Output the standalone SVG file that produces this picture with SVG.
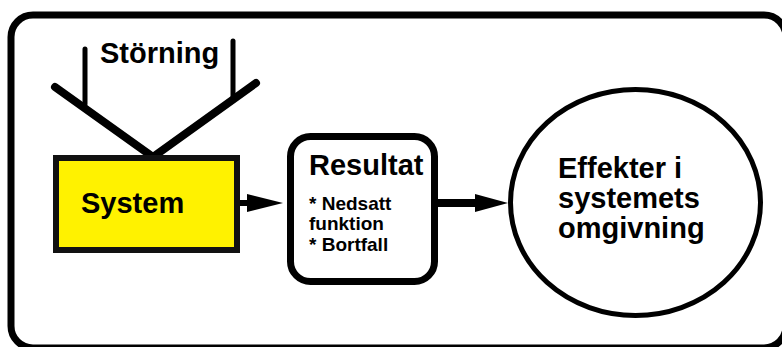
<svg xmlns="http://www.w3.org/2000/svg" width="782" height="347" viewBox="0 0 782 347">
<style>
text{font-family:"Liberation Sans",Arial,sans-serif;font-weight:bold;fill:#000}
.big{font-size:29px}
.small{font-size:19px}
.ln{stroke:#000;fill:none;stroke-linecap:round}
</style>
<rect x="0" y="0" width="782" height="347" fill="#fff"/>
<rect id="frame" x="11" y="15" width="775" height="333" rx="22" fill="none" stroke="#000" stroke-width="7"/>
<g id="disturbance">
<line class="ln" x1="85" y1="49" x2="85" y2="104" stroke-width="5"/>
<line class="ln" x1="233" y1="41" x2="233" y2="99" stroke-width="5"/>
<polyline class="ln" points="55,87 153,157 256,83" stroke-width="8" stroke-linejoin="round"/>
<text class="big" x="100" y="63">Störning</text>
</g>
<g id="system">
<rect x="56" y="158" width="181" height="92" fill="#fff200" stroke="#111" stroke-width="6"/>
<text class="big" x="81" y="213">System</text>
</g>
<g id="resultat">
<rect x="290.5" y="136.5" width="144" height="145" rx="20" fill="#fff" stroke="#000" stroke-width="7"/>
<text class="big" x="309" y="175">Resultat</text>
<text class="small" x="309" y="210">* Nedsatt</text>
<text class="small" x="309" y="230">funktion</text>
<text class="small" x="309" y="251">* Bortfall</text>
</g>
<g id="effekter">
<ellipse cx="635.5" cy="202.5" rx="125" ry="113" fill="#fff" stroke="#000" stroke-width="5"/>
<text class="big" x="558" y="178">Effekter i</text>
<text class="big" x="558" y="208">systemets</text>
<text class="big" x="558" y="238">omgivning</text>
</g>
<g id="connectors">
<line x1="240" y1="203" x2="252" y2="203" stroke="#000" stroke-width="6"/>
<polygon points="247,194 283,203 247,212" fill="#000"/>
<line x1="438" y1="203" x2="480" y2="203" stroke="#000" stroke-width="8"/>
<polygon points="475,194 508,203 475,212" fill="#000"/>
</g>
</svg>
